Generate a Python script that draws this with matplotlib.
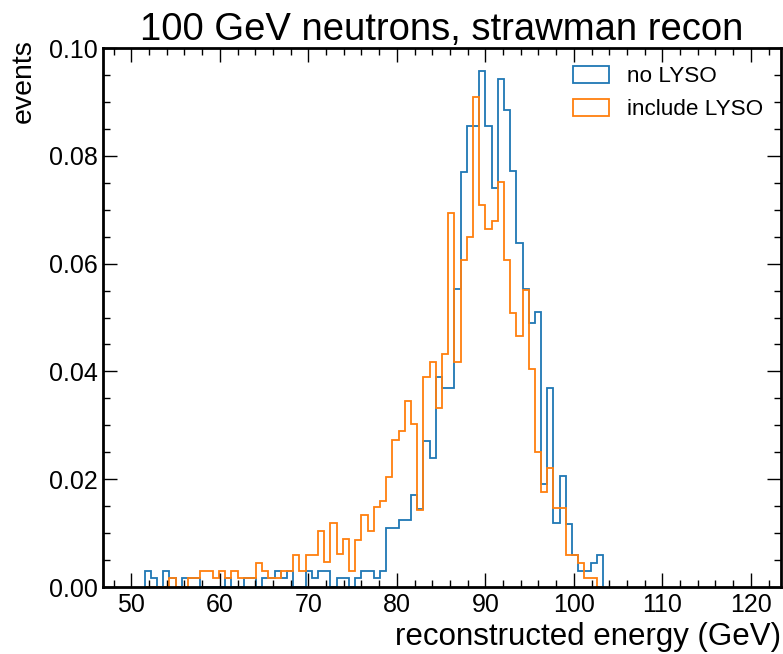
import matplotlib
matplotlib.use("Agg")
import matplotlib.pyplot as plt
from matplotlib.patches import Patch
import numpy as np

plt.rcParams['font.family'] = ['Liberation Sans', 'DejaVu Sans']

# histogram binning (GeV)
bin_start = 51.5
bin_width = 0.7
n_bins = 74

# normalised bin contents
no_lyso = [
    0.0030, 0.0016, 0.0000, 0.0030, 0.0016, 0.0000, 0.0016, 0.0016, 0.0016, 0.0000,
    0.0000, 0.0000, 0.0000, 0.0016, 0.0000, 0.0000, 0.0016, 0.0016, 0.0000, 0.0016,
    0.0016, 0.0030, 0.0016, 0.0030, 0.0000, 0.0000, 0.0030, 0.0016, 0.0030, 0.0030,
    0.0000, 0.0016, 0.0016, 0.0000, 0.0016, 0.0030, 0.0030, 0.0016, 0.0030, 0.0110,
    0.0110, 0.0125, 0.0125, 0.0170, 0.0145, 0.0270, 0.0240, 0.0390, 0.0370, 0.0370,
    0.0552, 0.0770, 0.0856, 0.0856, 0.0957, 0.0856, 0.0741, 0.0942, 0.0885, 0.0771,
    0.0639, 0.0552, 0.0490, 0.0510, 0.0192, 0.0369, 0.0118, 0.0206, 0.0117, 0.0059,
    0.0030, 0.0030, 0.0045, 0.0059,
]
incl_lyso = [
    0.0000, 0.0000, 0.0000, 0.0000, 0.0016, 0.0000, 0.0000, 0.0016, 0.0016, 0.0030,
    0.0030, 0.0016, 0.0030, 0.0016, 0.0030, 0.0016, 0.0016, 0.0016, 0.0044, 0.0030,
    0.0016, 0.0016, 0.0030, 0.0030, 0.0059, 0.0030, 0.0059, 0.0059, 0.0104, 0.0047,
    0.0119, 0.0062, 0.0090, 0.0030, 0.0088, 0.0134, 0.0104, 0.0148, 0.0160, 0.0205,
    0.0273, 0.0289, 0.0346, 0.0302, 0.0143, 0.0389, 0.0418, 0.0332, 0.0432, 0.0693,
    0.0418, 0.0607, 0.0650, 0.0910, 0.0709, 0.0665, 0.0679, 0.0752, 0.0607, 0.0508,
    0.0466, 0.0551, 0.0404, 0.0250, 0.0177, 0.0220, 0.0147, 0.0147, 0.0059, 0.0059,
    0.0044, 0.0016, 0.0016, 0.0000,
]
labels = ["no LYSO", "include LYSO"]
colors = ["#1f77b4", "#ff7f0e"]

edges = bin_start + bin_width * np.arange(n_bins + 1)

fig = plt.figure(figsize=(7.83, 6.54), dpi=100)
ax = fig.add_axes([0.1315, 0.1024, 0.8659, 0.8242])

for vals, c in zip([no_lyso, incl_lyso], colors):
    ax.stairs(vals, edges, color=c, lw=1.3)

ax.set_xlim(46.8, 123.4)
ax.set_ylim(0, 0.1)
ax.set_xticks(np.arange(50, 121, 10))
ax.set_xticks(np.arange(48, 124, 2), minor=True)
ax.set_yticks(np.arange(0, 0.101, 0.02))
ax.set_yticks(np.arange(0, 0.101, 0.005), minor=True)
ax.yaxis.set_major_formatter(matplotlib.ticker.FormatStrFormatter("%.2f"))

ax.tick_params(which="both", direction="in", top=True, right=True,
               labelsize=18, width=1)
ax.tick_params(which="major", length=10)
ax.tick_params(which="minor", length=5)
ax.tick_params(axis="x", pad=4)
for sp in ax.spines.values():
    sp.set_linewidth(2)

ax.set_title("100 GeV neutrons, strawman recon", fontsize=27.5, pad=5)
ax.set_xlabel("reconstructed energy (GeV)", fontsize=22.5, loc="right",
              labelpad=4)
ax.set_ylabel("events", fontsize=20.5, loc="top")
ax.yaxis.set_label_coords(-0.098, 1.016)

handles = [Patch(facecolor="none", edgecolor=c, lw=1.3) for c in colors]
ax.legend(handles, labels, loc="upper right", frameon=False, fontsize=16.2,
          handlelength=1.6, handleheight=0.8, handletextpad=0.8,
          borderaxespad=0.4)

fig.savefig("out.png", dpi=100)
